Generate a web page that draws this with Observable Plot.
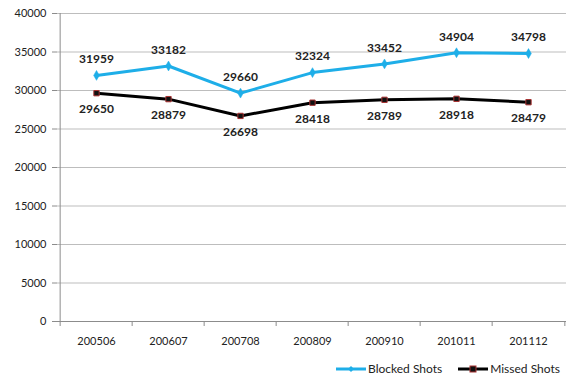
<!DOCTYPE html>
<html>
<head>
<meta charset="utf-8">
<script src="https://cdn.jsdelivr.net/npm/d3@7"></script>
<script src="https://cdn.jsdelivr.net/npm/@observablehq/plot@0.6"></script>
<style>
  body { margin: 0; background: #fff; font-family: Lato, "Open Sans", sans-serif; }
  #wrap { position: relative; width: 580px; height: 392px; }
  #legend { position: absolute; left: 336px; top: 361px; font-size: 12px; color: #222; display: flex; align-items: center; }
  #legend span.item { display: flex; align-items: center; margin-right: 8px; }
  #legend svg { margin-right: 2px; }
</style>
</head>
<body>
<div id="wrap">
<div id="chart"></div>
<div id="legend"></div>
</div>
<script>
const seasons = ["200506", "200607", "200708", "200809", "200910", "201011", "201112"];
const blockedShots = [31959, 33182, 29660, 32324, 33452, 34904, 34798];
const missedShots = [29650, 28879, 26698, 28418, 28789, 28918, 28479];
const yTicks = [0, 5000, 10000, 15000, 20000, 25000, 30000, 35000, 40000];

const blueColor = "#1EAEE8";
const blackColor = "#000000";
const squareStroke = "#A83232";
const axisGray = "#8C8C8C";

const blocked = seasons.map((s, i) => ({season: s, value: blockedShots[i]}));
const missed = seasons.map((s, i) => ({season: s, value: missedShots[i]}));

const W = 580, H = 356, mL = 57, mR = 14, mT = 13, mB = 35;
const step = (W - mL - mR) / seasons.length;

const plot = Plot.plot({
  width: W,
  height: H,
  marginLeft: mL,
  marginRight: mR,
  marginTop: mT,
  marginBottom: mB,
  style: {fontFamily: "Lato, 'Open Sans', sans-serif", fontSize: "11px", color: "#222", background: "#fff"},
  x: {type: "point", domain: seasons, padding: 0.5, label: null},
  y: {type: "linear", domain: [0, 40000], label: null},
  marks: [
    Plot.ruleY(yTicks.filter(d => d > 0), {stroke: "#BDBDBD", strokeWidth: 1}),
    Plot.ruleY([0], {stroke: axisGray, strokeWidth: 1}),
    Plot.ruleX([seasons[0]], {x: d => d, stroke: axisGray, dx: -step / 2, y1: 0, y2: 40000}),
    Plot.ruleX(seasons, {x: d => d, dx: -step / 2, y1: 0, y2: 0, insetBottom: -5, stroke: axisGray}),
    Plot.ruleX([seasons[seasons.length - 1]], {x: d => d, dx: step / 2, y1: 0, y2: 0, insetBottom: -5, stroke: axisGray}),
    Plot.axisX({tickSize: 0, tickPadding: 16, fontSize: 11, fill: "#222"}),
    Plot.axisY({ticks: yTicks, tickSize: 5, tickPadding: 6, tickFormat: d => String(d), stroke: axisGray, fill: "#222", fontSize: 11}),
    Plot.line(blocked, {x: "season", y: "value", stroke: blueColor, strokeWidth: 3}),
    Plot.line(missed, {x: "season", y: "value", stroke: blackColor, strokeWidth: 3}),
    Plot.dot(blocked, {x: "season", y: "value", symbol: "diamond", r: 3, fill: blueColor, stroke: blueColor, strokeWidth: 0.5}),
    Plot.dot(missed, {x: "season", y: "value", symbol: "square", r: 3, fill: "#111", stroke: squareStroke, strokeWidth: 1}),
    Plot.text(blocked, {x: "season", y: "value", text: d => String(d.value), dy: -16, fontWeight: "bold", fontSize: 12, fill: "#222"}),
    Plot.text(missed, {x: "season", y: "value", text: d => String(d.value), dy: 16, fontWeight: "bold", fontSize: 12, fill: "#222"})
  ]
});
document.getElementById("chart").appendChild(plot);

const legend = document.getElementById("legend");
legend.innerHTML = `
  <span class="item"><svg width="30" height="10"><line x1="0" y1="5" x2="30" y2="5" stroke="${blueColor}" stroke-width="3"/><path d="M15,2 L18,5 L15,8 L12,5 Z" fill="${blueColor}"/></svg>Blocked Shots</span>
  <span class="item" style="margin-left:8px"><svg width="30" height="10"><line x1="0" y1="5" x2="30" y2="5" stroke="#000" stroke-width="3"/><rect x="12" y="2" width="6" height="6" fill="#111" stroke="${squareStroke}" stroke-width="1"/></svg>Missed Shots</span>`;
</script>
</body>
</html>
